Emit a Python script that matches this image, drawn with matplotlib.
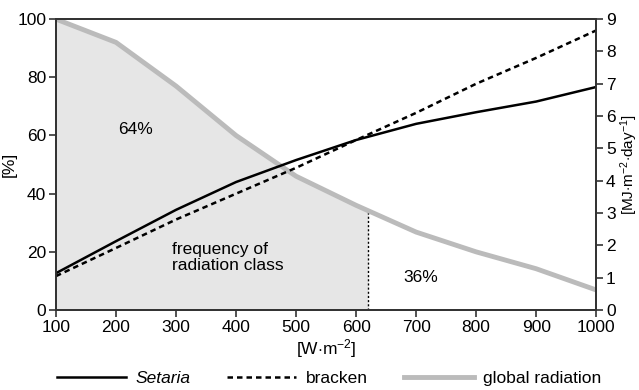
import matplotlib.pyplot as plt

plt.rcParams['font.family'] = ['Liberation Sans', 'DejaVu Sans']
plt.rcParams['font.size'] = 12.5
plt.rcParams['mathtext.fontset'] = 'custom'
plt.rcParams['mathtext.rm'] = 'Liberation Sans'
plt.rcParams['mathtext.it'] = 'Liberation Sans:italic'

# Daten
radiation = [100, 200, 300, 400, 500, 600, 700, 800, 900, 1000]
global_rad = [100, 92, 77, 60, 46, 36, 26.8, 20, 14.2, 6.9]        # [%]
setaria = [1.14, 2.13, 3.1, 3.96, 4.64, 5.26, 5.76, 6.12, 6.45, 6.9]  # [MJ m-2 day-1]
bracken = [1.05, 1.92, 2.8, 3.6, 4.4, 5.26, 6.1, 7.0, 7.8, 8.65]
split_x = 620
split_y = 34.4

fig = plt.figure(figsize=(6.39, 3.9), dpi=100)
ax = fig.add_axes([0.0876, 0.205, 0.8454, 0.746])
ax2 = ax.twinx()

# Fläche unter der Globalstrahlung bis 620 W/m2
fill_x = radiation[:6] + [split_x]
fill_y = global_rad[:6] + [split_y]
ax.fill_between(fill_x, fill_y, 0, color='#e6e6e6', lw=0)
ax.plot([split_x, split_x], [0, split_y], color='black', ls=(0, (1.5, 1.5)), lw=1)
ax.plot(radiation, global_rad, color='#bbbbbb', lw=3.5, solid_capstyle='butt')

ax2.plot(radiation, setaria, color='black', lw=1.8)
ax2.plot(radiation, bracken, color='black', lw=1.8, ls=(0, (2.2, 1.6)))

ax.set_xlim(100, 1000)
ax.set_ylim(0, 100)
ax2.set_ylim(0, 9)
ax.set_xticks(range(100, 1001, 100))
ax.set_yticks(range(0, 101, 20))
ax2.set_yticks(range(0, 10))

for a in (ax, ax2):
    a.tick_params(direction='out', length=5, width=1.2, color='#333333', pad=2)
    for s in a.spines.values():
        s.set_linewidth(1.3)
        s.set_color('#333333')

ax.set_ylabel('[%]')
ax.yaxis.set_label_coords(-0.072, 0.5)
ax2.set_ylabel(r'[MJ$\cdot$m$^{-2}$$\cdot$day$^{-1}$]', fontsize=11)
ax2.yaxis.set_label_coords(1.042, 0.5)
ax.set_xlabel(r'[W$\cdot$m$^{-2}$]', labelpad=2)

ax.text(233, 62, '64%', ha='center', va='center')
ax.text(293, 18, 'frequency of\nradiation class', ha='left', va='center', linespacing=1.05)
ax.text(707, 11.3, '36%', ha='center', va='center')

h1, = ax.plot([], [], color='black', lw=1.8)
h2, = ax.plot([], [], color='black', lw=1.8, ls=(0, (2.2, 1.6)))
h3, = ax.plot([], [], color='#bbbbbb', lw=3.5)
leg = fig.legend([h1, h2, h3], ['Setaria', 'bracken', 'global radiation'],
                 loc='center', bbox_to_anchor=(0.515, 0.03), ncol=3, frameon=False,
                 handlelength=4.0, columnspacing=2.1, handletextpad=0.55)
leg.get_texts()[0].set_style('italic')

fig.savefig('out.png', dpi=100)
